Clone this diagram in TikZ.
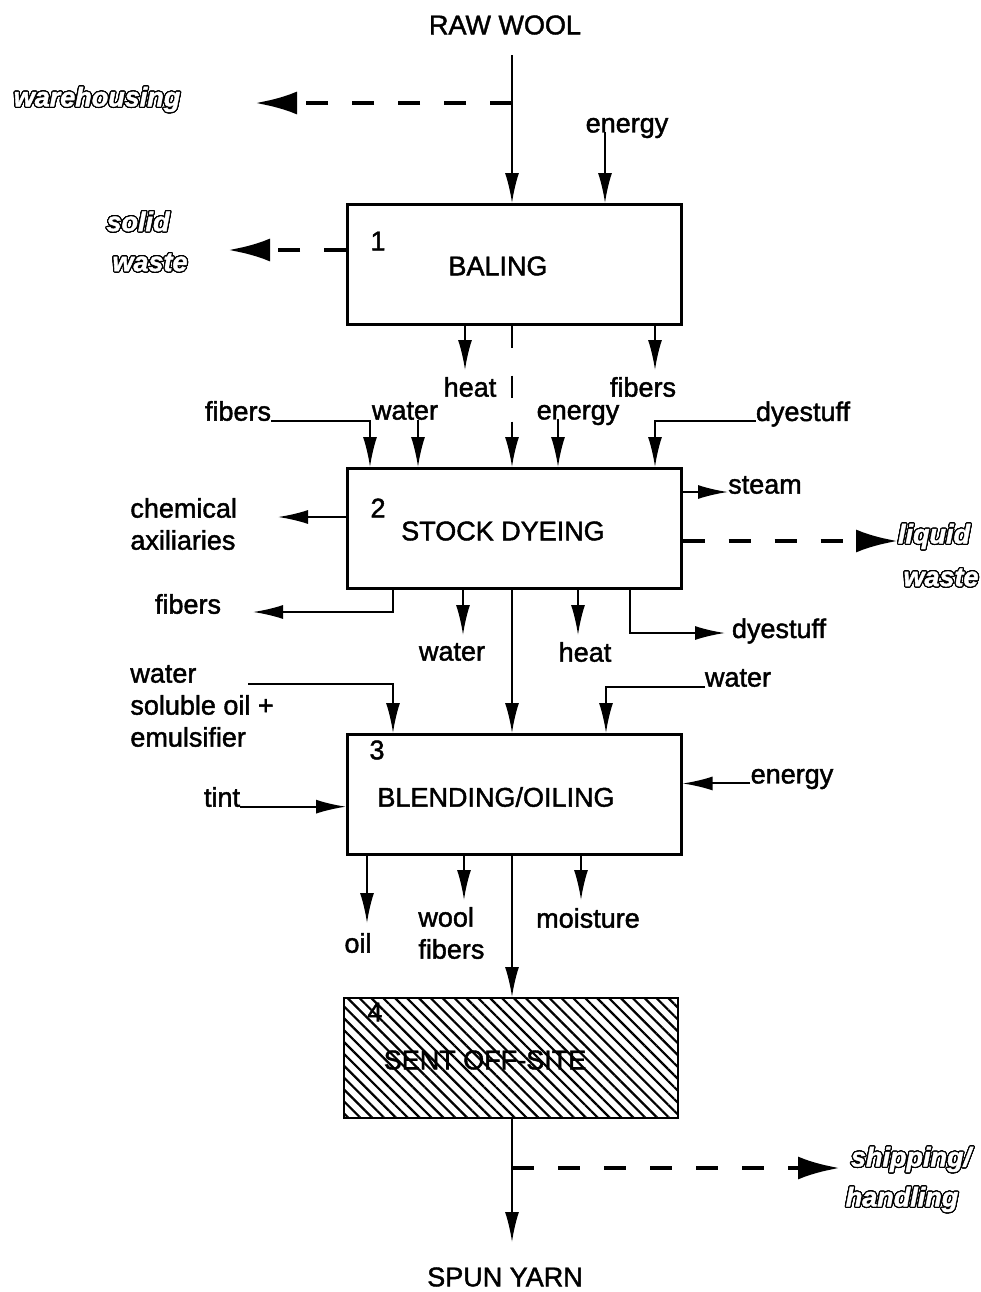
\documentclass[tikz,border=0pt]{standalone}
\usepackage{fontspec}
\setmainfont{Liberation Sans}[FakeBold=1.6]
\usepackage[copies]{contour}
\usetikzlibrary{arrows.meta,patterns.meta}
\contourlength{0.6pt}
\contournumber{24}
\newcommand{\hollow}[1]{{\color{white}\contour{black}{#1}}}

\begin{document}
\begin{tikzpicture}[x=0.5pt, y=-0.5pt,
  every node/.style={font=\fontsize{13.5}{16}\selectfont, inner sep=0pt},
  box/.style={draw, line width=1.3pt, minimum width=167pt, minimum height=60pt, anchor=north west},
  flow/.style={line width=1pt, -{Latex[length=15pt, width=7pt]}},
  loss/.style={line width=2.4pt, dash pattern=on 11pt off 12pt, -{Latex[length=21pt, width=11.5pt]}},
  waste/.style={font=\fontsize{13.5}{16}\selectfont\bfseries\itshape}]
\useasboundingbox (0,0) rectangle (981,1292);

% process boxes
\node[box] (baling) at (346,203) {};
\node[box] (dyeing) at (346,467) {};
\node[box] (blending) at (346,733) {};
\node[box, pattern={Lines[angle=-45, distance=4.2pt, line width=1.1pt]}] (offsite) at (343,997) {};

\node (balingN) at (378,241) {1};
\node (balingT) at (498,266) {BALING};
\node (dyeingN) at (378,508) {2};
\node (dyeingT) at (503,531) {STOCK DYEING};
\node (blendingN) at (377,750) {3};
\node (blendingT) at (496,797) {BLENDING/OILING};
\node (offsiteN) at (375,1012) {4};
\node (offsiteT) at (485,1060) {SENT OFF-SITE};

% main line
\node (rawwool) at (505,25) {RAW WOOL};
\coordinate (top) at (512,55);
\draw[flow] (top) -- (baling.north -| top);
\draw[flow, dash pattern=on 11pt off 14pt on 11pt off 12pt on 40pt off 0pt] (baling.south -| top) -- (dyeing.north -| top);
\draw[flow] (dyeing.south -| top) -- (blending.north -| top);
\draw[flow] (blending.south -| top) -- (offsite.north -| top);
\node (yarn) at (505,1277) {SPUN YARN};
\coordinate (yarnT) at (512,1242);
\draw[flow] (offsite.south -| top) -- (yarnT);

% baling
\node[waste] (wareh) at (97,100) {\hollow{warehousing}};
\coordinate (whS) at (512,103);
\coordinate (whE) at (255,103);
\draw[loss] (whS) -- (whE);
\node (energy1) at (627,128) {energy};
\draw[flow] ([xshift=-11pt]energy1.base) -- ([xshift=-11pt]energy1.base |- baling.north);
\node[waste] (solid) at (138,222) {\hollow{solid}};
\node[waste] (solidW) at (150,263) {\hollow{waste}};
\coordinate (swE) at (228,250);
\draw[loss] (swE -| baling.west) -- (swE);
\node (heat1) at (470,387) {heat};
\coordinate (heat1T) at (465,370);
\draw[flow] (heat1T |- baling.south) -- (heat1T);
\node (fib1) at (643,387) {fibers};
\coordinate (fib1T) at (655,370);
\draw[flow] (fib1T |- baling.south) -- (fib1T);

% stock dyeing
\node (fib2) at (238,411) {fibers};
\draw[flow] (fib2.base east) -| ([xshift=12pt]dyeing.north west);
\node (wat2) at (405,411) {water};
\draw[flow] ([xshift=6.5pt]wat2.base) -- ([xshift=6.5pt]wat2.base |- dyeing.north);
\node (energy2) at (578,415) {energy};
\draw[flow] ([xshift=-10pt]energy2.base) -- ([xshift=-10pt]energy2.base |- dyeing.north);
\node (dye2) at (803,414) {dyestuff};
\draw[flow] (dye2.base west) -| ([xshift=154.5pt]dyeing.north west);
\node (steam) at (765,485) {steam};
\coordinate (steamE) at (728,492);
\draw[flow] (steamE -| dyeing.east) -- (steamE);
\node[waste] (liquid) at (934,537) {\hollow{liquid}};
\node[waste] (liquidW) at (941,578) {\hollow{waste}};
\coordinate (lwE) at (898,541);
\draw[loss] (lwE -| dyeing.east) -- (lwE);
\node[align=left, anchor=west] (chem) at (130,524) {chemical\\axiliaries};
\coordinate (chemE) at (278,517);
\draw[flow] (chemE -| dyeing.west) -- (chemE);
\node (fib3) at (188,604) {fibers};
\coordinate (fib3E) at (253,612);
\draw[flow] ([xshift=23.5pt]dyeing.south west) |- (fib3E);
\node (wat3) at (452,652) {water};
\coordinate (wat3T) at (463,635);
\draw[flow] (wat3T |- dyeing.south) -- (wat3T);
\node (heat3) at (585,652) {heat};
\coordinate (heat3T) at (578,635);
\draw[flow] (heat3T |- dyeing.south) -- (heat3T);
\node (dye3) at (779,631) {dyestuff};
\coordinate (dye3E) at (725,633);
\draw[flow] ([xshift=142pt]dyeing.south west) |- (dye3E);

% blending/oiling
\node[align=left, anchor=west] (oilin) at (130,706) {water\\soluble oil +\\emulsifier};
\coordinate (oilS) at (248,684);
\draw[flow] (oilS) -| ([xshift=23.5pt]blending.north west);
\node (wat4) at (738,678) {water};
\draw[flow] (wat4.base west) -| ([xshift=130pt]blending.north west);
\node (energy3) at (792,779) {energy};
\draw[flow] (energy3.base west) -- (energy3.base west -| blending.east);
\node (tint) at (222,797) {tint};
\draw[flow] (tint.base east) -- (tint.base east -| blending.west);
\node (oil) at (358,943) {oil};
\coordinate (oilT) at (367,923);
\draw[flow] (oilT |- blending.south) -- (oilT);
\node[align=left, anchor=west] (woolfib) at (418,933) {wool\\fibers};
\coordinate (woolT) at (464,900);
\draw[flow] (woolT |- blending.south) -- (woolT);
\node (moist) at (588,918) {moisture};
\coordinate (moistT) at (581,900);
\draw[flow] (moistT |- blending.south) -- (moistT);

% sent off-site
\node[waste] (shipping) at (911,1160) {\hollow{shipping/}};
\node[waste] (handling) at (902,1200) {\hollow{handling}};
\coordinate (shipS) at (512,1168);
\coordinate (shipE) at (840,1168);
\draw[loss] (shipS) -- (shipE);
\end{tikzpicture}
\end{document}
